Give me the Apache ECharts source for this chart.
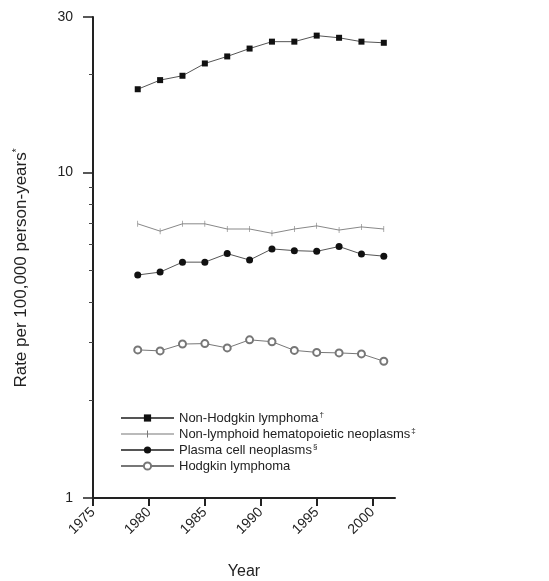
<!DOCTYPE html>
<html>
<head>
<meta charset="utf-8">
<script src="https://cdn.jsdelivr.net/npm/echarts@6/dist/echarts.min.js"></script>
<style>
  html, body { margin: 0; padding: 0; background: #fff; }
  #chart { width: 549px; height: 581px; }
</style>
</head>
<body>
<div id="chart"></div>
<script>
// survey years (every 2 years)
var years = [1979, 1981, 1983, 1985, 1987, 1989, 1991, 1993, 1995, 1997, 1999, 2001];

var nhl = [18.0, 19.2, 19.8, 21.6, 22.7, 24.0, 25.2, 25.2, 26.3, 25.9, 25.2, 25.0];
var nonLymphoid = [6.95, 6.6, 6.95, 6.95, 6.7, 6.7, 6.5, 6.7, 6.85, 6.65, 6.8, 6.7];
var plasma = [4.84, 4.94, 5.30, 5.30, 5.63, 5.38, 5.82, 5.75, 5.72, 5.92, 5.61, 5.53];
var hodgkin = [2.85, 2.83, 2.97, 2.98, 2.89, 3.06, 3.02, 2.84, 2.80, 2.79, 2.77, 2.63];

var xTicks = [1975, 1980, 1985, 1990, 1995, 2000];
var yMajor = [1, 10, 30];
var yMinor = [2, 3, 4, 5, 6, 7, 8, 9, 20];

var font = 'Liberation Sans, Arial, sans-serif';

function pairs(vals) {
  var out = [];
  for (var i = 0; i < years.length; i++) out.push([years[i], vals[i]]);
  return out;
}

var chart = echarts.init(document.getElementById('chart'));

var option = {
  animation: false,
  backgroundColor: '#fff',
  textStyle: { fontFamily: font },
  grid: { left: 93, top: 17, right: 154, bottom: 83, outerBoundsMode: 'none', containLabel: false },
  legend: {
    orient: 'vertical',
    left: 115,
    top: 406,
    itemWidth: 53,
    itemHeight: 9,
    itemGap: 2,
    textStyle: {
      fontFamily: font, fontSize: 13, color: '#222', lineHeight: 14,
      rich: {
        s: { fontSize: 8, verticalAlign: 'top', padding: [0, 0, 6, 1], color: '#222' }
      }
    },
    formatter: function (name) {
      var sup = { 'Non-Hodgkin lymphoma': '†', 'Non-lymphoid hematopoietic neoplasms': '‡', 'Plasma cell neoplasms': '§' };
      return sup[name] ? name + '{s|' + sup[name] + '}' : name;
    },
    data: [
      'Non-Hodgkin lymphoma',
      { name: 'Non-lymphoid hematopoietic neoplasms', icon: 'path://M0,4H53V5H0ZM26,1H27V8H26Z' },
      'Plasma cell neoplasms',
      'Hodgkin lymphoma'
    ]
  },
  xAxis: {
    type: 'value',
    min: 1975,
    max: 2002,
    interval: 5,
    name: 'Year',
    nameLocation: 'middle',
    nameGap: 66,
    nameTextStyle: { fontFamily: font, fontSize: 16, color: '#222' },
    axisLine: { lineStyle: { color: '#222', width: 2 } },
    axisTick: { customValues: xTicks, length: 8, lineStyle: { color: '#222', width: 2 } },
    axisLabel: {
      customValues: xTicks, rotate: 45, margin: 12, fontSize: 14, color: '#222', fontFamily: font,
      formatter: function (v) { return String(v); }
    },
    splitLine: { show: false }
  },
  yAxis: [{
    type: 'log',
    position: 'left',
    min: 1,
    max: 30,
    axisLine: { show: true, lineStyle: { color: '#222', width: 2 } },
    axisTick: { customValues: yMajor, length: 10, lineStyle: { color: '#222', width: 1.5 } },
    axisLabel: { customValues: yMajor, margin: 20, fontSize: 14, color: '#222', fontFamily: font },
    splitLine: { show: false }
  }, {
    type: 'log',
    position: 'left',
    min: 1,
    max: 30,
    axisLine: { show: false },
    axisTick: { customValues: yMinor, length: 4, lineStyle: { color: '#444', width: 1 } },
    axisLabel: { show: false },
    splitLine: { show: false }
  }],
  graphic: [{
    type: 'text',
    x: 21,
    y: 268,
    rotation: Math.PI / 2,
    style: {
      text: 'Rate per 100,000 person-years{s|*}',
      fontFamily: font, fontSize: 17, fill: '#222',
      align: 'center', verticalAlign: 'middle',
      rich: { s: { fontSize: 10, verticalAlign: 'top', fill: '#222' } }
    }
  }],
  series: [{
    name: 'Non-Hodgkin lymphoma',
    type: 'line',
    data: pairs(nhl),
    symbol: 'rect',
    symbolSize: 6,
    lineStyle: { color: '#555', width: 1 },
    itemStyle: { color: '#111' }
  }, {
    name: 'Non-lymphoid hematopoietic neoplasms',
    type: 'line',
    data: pairs(nonLymphoid),
    symbol: 'path://M0,0H1V10H0Z',
    symbolKeepAspect: true,
    symbolSize: 6,
    lineStyle: { color: '#888', width: 1 },
    itemStyle: { color: '#777' }
  }, {
    name: 'Plasma cell neoplasms',
    type: 'line',
    data: pairs(plasma),
    symbol: 'circle',
    symbolSize: 7,
    lineStyle: { color: '#555', width: 1 },
    itemStyle: { color: '#111' }
  }, {
    name: 'Hodgkin lymphoma',
    type: 'line',
    data: pairs(hodgkin),
    symbol: 'emptyCircle',
    symbolSize: 7,
    lineStyle: { color: '#777', width: 1 },
    itemStyle: { color: '#777', borderWidth: 1 }
  }]
};

chart.setOption(option);
</script>
</body>
</html>
